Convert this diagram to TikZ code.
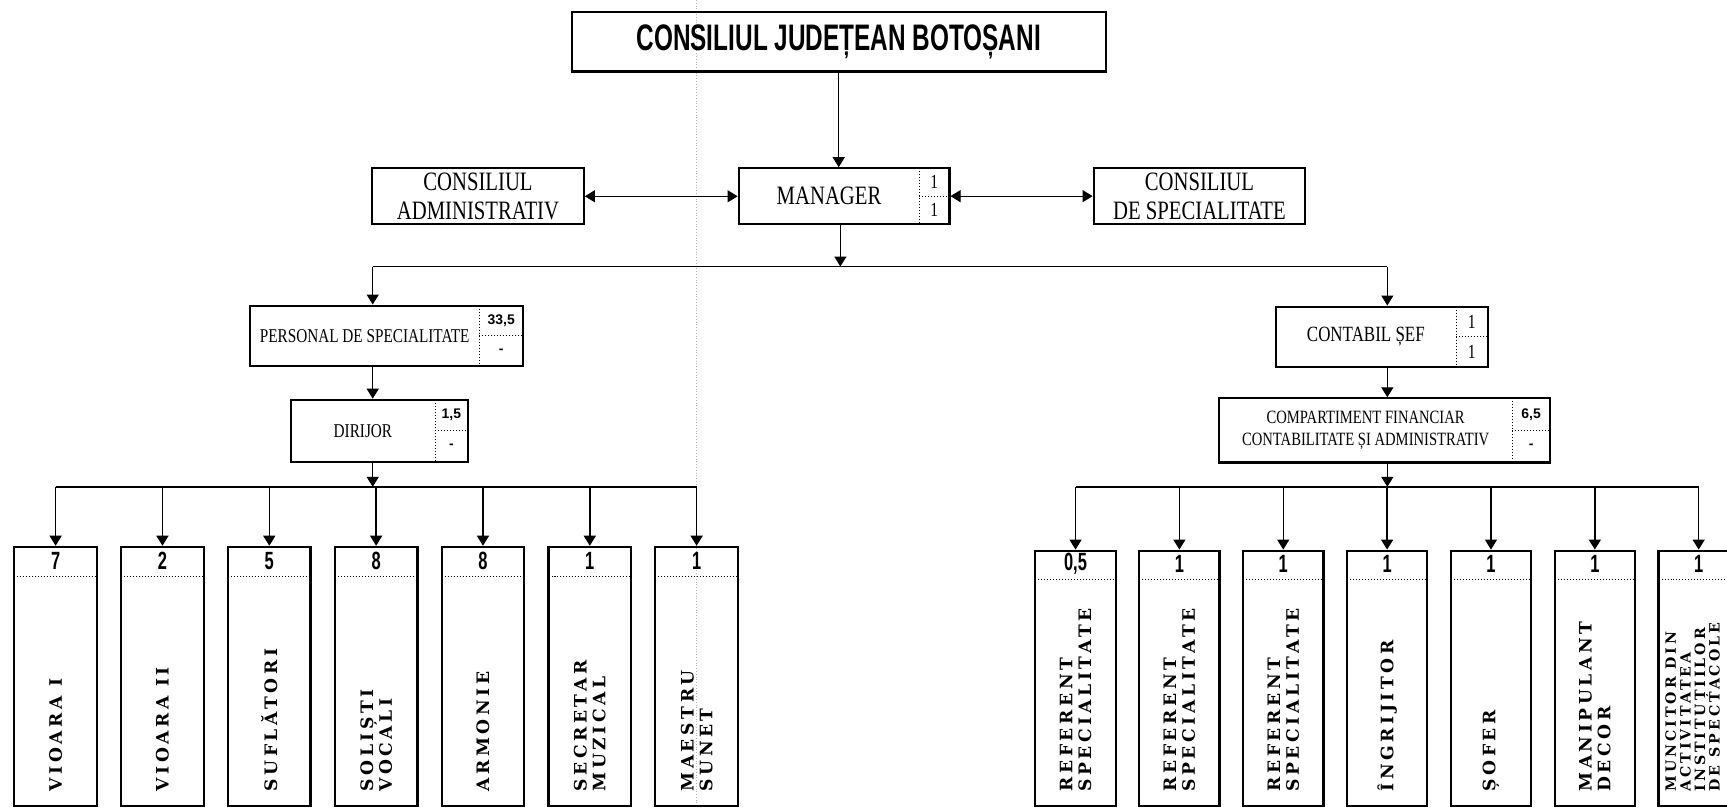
\documentclass[tikz,border=0pt]{standalone}
\usepackage{fontspec}
\setmainfont{Liberation Serif}
\newfontfamily\lblfont[FakeStretch=0.78]{Liberation Serif}
\newfontfamily\ttlfont[FakeStretch=0.66]{Liberation Sans}
\newfontfamily\numfont{Liberation Sans}
\newfontfamily\colfont[LetterSpace=21]{DejaVu Serif}
\usetikzlibrary{arrows.meta,calc}
\newcommand{\upx}{0.55bp}

\begin{document}
\begin{tikzpicture}[x=0.55bp, y=-0.55bp,
    box/.style={draw, line width=1.1bp, inner sep=0pt},
    sep/.style={line width=0.5bp, densely dotted},
    conn/.style={line width=0.7bp},
    arr/.style={conn, -{Triangle[length=5bp,width=6bp]}},
    dbl/.style={line width=0.5bp, {Triangle[length=5bp,width=6bp]}-{Triangle[length=5bp,width=6bp]}},
    ttl/.style={font=\ttlfont\bfseries\fontsize{18.5}{20}\selectfont},
    lbl/.style={font=\lblfont\fontsize{13.3}{14.6}\selectfont, align=center, inner sep=0pt},
    lblmd/.style={font=\lblfont\fontsize{10.9}{12}\selectfont, align=center, inner sep=0pt},
    lblsm/.style={font=\lblfont\fontsize{9.8}{11}\selectfont, align=center, inner sep=0pt},
    lblxs/.style={font=\lblfont\fontsize{9.4}{10.8}\selectfont, align=center, inner sep=0pt},
    one/.style={font=\lblfont\fontsize{10}{11}\selectfont, inner sep=0pt},
    tiny/.style={font=\numfont\bfseries\fontsize{7}{8}\selectfont, inner sep=0pt},
    cnt/.style={font=\ttlfont\bfseries\fontsize{12.5}{13}\selectfont, inner sep=0pt},
    vtxt/.style={font=\colfont\bfseries\fontsize{8.6}{9.4}\selectfont, rotate=90, anchor=west, align=left, inner sep=0pt},
    vtxtS/.style={vtxt, font=\colfont\bfseries\fontsize{7.1}{7.3}\selectfont},
    sub/.style={path picture={
        \draw[sep] ($(path picture bounding box.north east)+(-#1,0)$) -- ($(path picture bounding box.south east)+(-#1,0)$);
        \draw[sep] ($(path picture bounding box.east)+(-#1,0)$) -- (path picture bounding box.east);}},
    hdr/.style={path picture={
        \draw[sep] ($(path picture bounding box.north west)+(0,#1)$) -- ($(path picture bounding box.north east)+(0,#1)$);}},
    colL/.style={box, hdr=27, minimum width=75*\upx, minimum height=235.5*\upx},
    colR/.style={box, hdr=26.5, minimum width=73*\upx, minimum height=232*\upx}]

    \path[use as bounding box] (0,0) rectangle (1568,733);
    \clip (0,0) rectangle (1568,733);

    % Fold line of the scan
    \draw[gray!60, line width=0.4bp, densely dotted] (632.5,0) -- (632.5,733);

    % Top
    \node[box, ttl, minimum width=485*\upx, minimum height=54.4*\upx] (cjb) at (761.5,37.8) {CONSILIUL JUDEȚEAN BOTOȘANI};

    % Manager and councils
    \node[box, sub=27.3, minimum width=191.3*\upx, minimum height=50.6*\upx] (mgr) at (766.35,178.1) {};
    \node[lbl] (mgrT) at (752.7,178.1) {MANAGER};
    \node[one] (mgrA) at (848.35,165.45) {1};
    \node[one] (mgrB) at (848.35,190.75) {1};
    \node[box, lbl, minimum width=192*\upx, minimum height=51*\upx] (adm) at (434,178.2) {CONSILIUL\\ADMINISTRATIV};
    \node[box, lbl, minimum width=192*\upx, minimum height=51*\upx] (spec) at (1089,178.2) {CONSILIUL\\DE SPECIALITATE};

    % Specialist staff
    \node[box, sub=39.8, minimum width=248*\upx, minimum height=54.8*\upx] (pers) at (351,304.9) {};
    \node[lblsm] (persT) at (331.1,304.9) {PERSONAL DE SPECIALITATE};
    \node[tiny] (persA) at (455.1,291.2) {33,5};
    \node[tiny] (persB) at (455.1,318.6) {-};
    \node[box, sub=29.6, minimum width=160.6*\upx, minimum height=56.2*\upx] (dir) at (344.3,391.1) {};
    \node[lblsm] (dirT) at (329.5,391.1) {DIRIJOR};
    \node[tiny] (dirA) at (409.8,377) {1,5};
    \node[tiny] (dirB) at (409.8,405.2) {-};

    % Accounting
    \node[box, sub=28.7, minimum width=192.5*\upx, minimum height=54.5*\upx] (cont) at (1254.45,305.65) {};
    \node[lblmd] (contT) at (1240.1,305.65) {CONTABIL ȘEF};
    \node[one] (contA) at (1336.35,292) {1};
    \node[one] (contB) at (1336.35,319.3) {1};
    \node[box, sub=34.3, minimum width=300.5*\upx, minimum height=58.3*\upx] (comp) at (1257.05,390.85) {};
    \node[lblxs] (compT) at (1239.9,390.85) {COMPARTIMENT FINANCIAR\\CONTABILITATE ȘI ADMINISTRATIV};
    \node[tiny] (compA) at (1390.15,376.3) {6,5};
    \node[tiny] (compB) at (1390.15,405.4) {-};

    % Orchestra
    \node[colL] (vio1) at (50.5,614.25) {};
    \node[cnt] (vio1n) at ($(vio1.north)+(0,13.5)$) {7};
    \node[vtxt] (vio1t) at ($(vio1.south)+(0,-14)$) {VIOARA I};
    \node[colL] (vio2) at (147.5,614.25) {};
    \node[cnt] (vio2n) at ($(vio2.north)+(0,13.5)$) {2};
    \node[vtxt] (vio2t) at ($(vio2.south)+(0,-14)$) {VIOARA II};
    \node[colL] (sufl) at (244.5,614.25) {};
    \node[cnt] (sufln) at ($(sufl.north)+(0,13.5)$) {5};
    \node[vtxt] (suflt) at ($(sufl.south)+(0,-14)$) {SUFLĂTORI};
    \node[colL] (sol) at (341.5,614.25) {};
    \node[cnt] (soln) at ($(sol.north)+(0,13.5)$) {8};
    \node[vtxt] (solt) at ($(sol.south)+(0,-14)$) {SOLIȘTI\\VOCALI};
    \node[colL] (arm) at (438.5,614.25) {};
    \node[cnt] (armn) at ($(arm.north)+(0,13.5)$) {8};
    \node[vtxt] (armt) at ($(arm.south)+(0,-14)$) {ARMONIE};
    \node[colL] (secr) at (535.5,614.25) {};
    \node[cnt] (secrn) at ($(secr.north)+(0,13.5)$) {1};
    \node[vtxt] (secrt) at ($(secr.south)+(0,-14)$) {SECRETAR\\MUZICAL};
    \node[colL] (maes) at (632.5,614.25) {};
    \node[cnt] (maesn) at ($(maes.north)+(0,13.5)$) {1};
    \node[vtxt] (maest) at ($(maes.south)+(0,-14)$) {MAESTRU\\SUNET};

    % Administration
    \node[colR] (ref1) at (976.5,616) {};
    \node[cnt] (ref1n) at ($(ref1.north)+(0,13.25)$) {0,5};
    \node[vtxt] (ref1t) at ($(ref1.south)+(0,-14)$) {REFERENT\\SPECIALITATE};
    \node[colR] (ref2) at (1070.8,616) {};
    \node[cnt] (ref2n) at ($(ref2.north)+(0,13.25)$) {1};
    \node[vtxt] (ref2t) at ($(ref2.south)+(0,-14)$) {REFERENT\\SPECIALITATE};
    \node[colR] (ref3) at (1165.1,616) {};
    \node[cnt] (ref3n) at ($(ref3.north)+(0,13.25)$) {1};
    \node[vtxt] (ref3t) at ($(ref3.south)+(0,-14)$) {REFERENT\\SPECIALITATE};
    \node[colR] (ingr) at (1259.4,616) {};
    \node[cnt] (ingrn) at ($(ingr.north)+(0,13.25)$) {1};
    \node[vtxt] (ingrt) at ($(ingr.south)+(0,-14)$) {ÎNGRIJITOR};
    \node[colR] (sof) at (1353.7,616) {};
    \node[cnt] (sofn) at ($(sof.north)+(0,13.25)$) {1};
    \node[vtxt] (soft) at ($(sof.south)+(0,-14)$) {ȘOFER};
    \node[colR] (man) at (1448,616) {};
    \node[cnt] (mann) at ($(man.north)+(0,13.25)$) {1};
    \node[vtxt] (mant) at ($(man.south)+(0,-14)$) {MANIPULANT\\DECOR};
    \node[colR] (munc) at (1542.3,616) {};
    \node[cnt] (muncn) at ($(munc.north)+(0,13.25)$) {1};
    \node[vtxtS] (munct) at ($(munc.south)+(-5.5,-14)$) {MUNCITOR DIN\\ACTIVITATEA\\INSTITUȚIILOR\\DE SPECTACOLE};

    % Connectors
    \coordinate (bus) at (763,242);
    \coordinate (busP) at (338.4,242);
    \coordinate (busC) at (1259.6,242);
    \coordinate (busL) at (338.4,442);
    \coordinate (busR) at (1259.6,442);
    \draw[arr] (cjb.south) -- (cjb.south |- mgr.north);
    \draw[dbl] (adm.east) -- (adm.east -| mgr.west);
    \draw[dbl] (mgr.east) -- (mgr.east -| spec.west);
    \draw[arr] (mgr.south -| bus) -- (bus);
    \draw[conn] (busP) -- (busC);
    \draw[arr] (busP) -- (busP |- pers.north);
    \draw[arr] (busC) -- (busC |- cont.north);
    \draw[arr] (pers.south -| busP) -- (busP |- dir.north);
    \draw[arr] (cont.south -| busC) -- (busC |- comp.north);
    \draw[arr] (dir.south -| busL) -- (busL);
    \draw[arr] (comp.south -| busR) -- (busR);
    \draw[conn] (vio1 |- busL) -- (maes |- busL);
    \draw[conn] (ref1 |- busR) -- (munc |- busR);
    \draw[arr] (vio1 |- busL) -- (vio1.north);
    \draw[arr] (vio2 |- busL) -- (vio2.north);
    \draw[arr] (sufl |- busL) -- (sufl.north);
    \draw[arr] (sol |- busL) -- (sol.north);
    \draw[arr] (arm |- busL) -- (arm.north);
    \draw[arr] (secr |- busL) -- (secr.north);
    \draw[arr] (maes |- busL) -- (maes.north);
    \draw[arr] (ref1 |- busR) -- (ref1.north);
    \draw[arr] (ref2 |- busR) -- (ref2.north);
    \draw[arr] (ref3 |- busR) -- (ref3.north);
    \draw[arr] (ingr |- busR) -- (ingr.north);
    \draw[arr] (sof |- busR) -- (sof.north);
    \draw[arr] (man |- busR) -- (man.north);
    \draw[arr] (munc |- busR) -- (munc.north);

\end{tikzpicture}
\end{document}
